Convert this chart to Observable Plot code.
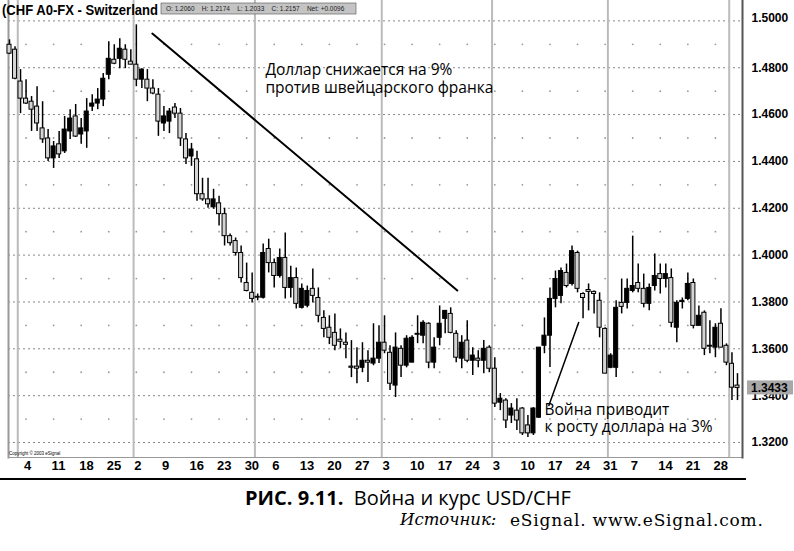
<!DOCTYPE html>
<html><head><meta charset="utf-8">
<script src="https://cdn.jsdelivr.net/npm/d3@7"></script>
<script src="https://cdn.jsdelivr.net/npm/@observablehq/plot@0.6"></script>
<style>
body{margin:0;background:#fff;}
#wrap{position:relative;width:794px;height:551px;overflow:hidden;background:#fff;}
#chart{position:absolute;left:0;top:0;}
.cap{position:absolute;white-space:nowrap;color:#000;line-height:1.2;}
</style></head><body>
<div id="wrap"><div id="chart"></div>
<div class="cap" style="left:245px;top:486px;font-family:'Open Sans';font-size:20px;"><b>РИС. 9.11.</b>&nbsp; Война и курс USD/CHF</div>
<div class="cap" style="left:400px;top:510px;font-family:'DejaVu Serif';font-size:16.5px;font-style:italic;">Источник:</div>
<div class="cap" style="left:510px;top:510px;font-family:'DejaVu Serif';font-size:17px;letter-spacing:0.8px;">eSignal. www.eSignal.com.</div>
</div>
<script>
// Daily USD/CHF candles, 30 Oct 2002 – 2 May 2003 (index = trading day)
const open = [1.4898,1.4877,1.4741,1.4668,1.4655,1.4634,1.4541,1.4498,1.4413,1.4473,
1.4443,1.4528,1.4592,1.4515,1.4528,1.4634,1.4647,1.4664,1.4770,1.4834,
1.4838,1.4877,1.4826,1.4813,1.4749,1.4749,1.4711,1.4685,1.4562,1.4570,
1.4630,1.4604,1.4494,1.4421,1.4409,1.4260,1.4238,1.4204,1.4221,1.4175,
1.4081,1.4060,1.4009,1.3881,1.3839,1.3822,1.3818,1.4026,1.3966,1.3911,
1.3988,1.3860,1.3902,1.3775,1.3784,1.3856,1.3817,1.3732,1.3690,1.3668,
1.3639,1.3626,1.3524,1.3524,1.3519,1.3549,1.3537,1.3558,1.3626,1.3583,
1.3443,1.3600,1.3528,1.3541,1.3660,1.3656,1.3707,1.3541,1.3647,1.3728,
1.3749,1.3664,1.3558,1.3635,1.3549,1.3558,1.3549,1.3605,1.3515,1.3370,
1.3379,1.3315,1.3336,1.3345,1.3273,1.3239,1.3306,1.3613,1.3656,1.3813,
1.3826,1.3924,1.3877,1.4009,1.3834,1.3851,1.3843,1.3805,1.3685,1.3519,
1.3519,1.3796,1.3796,1.3847,1.3881,1.3856,1.3792,1.3868,1.3919,1.3898,
1.3902,1.3690,1.3800,1.3813,1.3881,1.3698,1.3754,1.3613,1.3605,1.3707,
1.3613,1.3536,1.3443];
const high = [1.4919,1.4890,1.4792,1.4749,1.4677,1.4719,1.4655,1.4536,1.4485,1.4528,
1.4592,1.4621,1.4643,1.4583,1.4668,1.4685,1.4711,1.4775,1.4911,1.4898,
1.4924,1.4898,1.4877,1.4983,1.4796,1.4792,1.4749,1.4711,1.4634,1.4626,
1.4647,1.4626,1.4519,1.4477,1.4443,1.4328,1.4328,1.4281,1.4251,1.4200,
1.4090,1.4073,1.4039,1.3966,1.3924,1.3834,1.4047,1.4068,1.3983,1.4026,
1.4094,1.3953,1.3945,1.3877,1.3868,1.3941,1.3860,1.3762,1.3741,1.3749,
1.3685,1.3668,1.3635,1.3605,1.3626,1.3592,1.3707,1.3698,1.3741,1.3613,
1.3668,1.3613,1.3656,1.3656,1.3741,1.3720,1.3711,1.3647,1.3783,1.3762,
1.3775,1.3677,1.3656,1.3720,1.3605,1.3592,1.3635,1.3613,1.3562,1.3409,
1.3387,1.3366,1.3387,1.3349,1.3315,1.3349,1.3605,1.3732,1.3860,1.3932,
1.3945,1.3962,1.4039,1.4017,1.3839,1.3877,1.3847,1.3839,1.3690,1.3579,
1.3805,1.3898,1.3898,1.4081,1.3962,1.3919,1.3877,1.4005,1.3962,1.3962,
1.3941,1.3805,1.3817,1.3924,1.3898,1.3783,1.3762,1.3720,1.3707,1.3771,
1.3621,1.3583,1.3494];
const low = [1.4856,1.4749,1.4604,1.4643,1.4528,1.4528,1.4477,1.4400,1.4370,1.4413,
1.4434,1.4494,1.4502,1.4473,1.4456,1.4613,1.4621,1.4634,1.4749,1.4813,
1.4796,1.4796,1.4813,1.4719,1.4711,1.4655,1.4685,1.4507,1.4528,1.4519,
1.4583,1.4464,1.4387,1.4379,1.4230,1.4230,1.4200,1.4196,1.4124,1.4039,
1.4039,1.3996,1.3881,1.3843,1.3796,1.3805,1.3813,1.3924,1.3860,1.3902,
1.3813,1.3817,1.3770,1.3770,1.3775,1.3796,1.3711,1.3647,1.3618,1.3592,
1.3600,1.3558,1.3477,1.3451,1.3498,1.3456,1.3528,1.3537,1.3579,1.3422,
1.3392,1.3477,1.3519,1.3541,1.3622,1.3622,1.3515,1.3515,1.3613,1.3664,
1.3664,1.3541,1.3515,1.3541,1.3486,1.3519,1.3494,1.3498,1.3349,1.3336,
1.3260,1.3281,1.3251,1.3230,1.3221,1.3230,1.3302,1.3579,1.3520,1.3775,
1.3792,1.3860,1.3868,1.3839,1.3728,1.3762,1.3749,1.3647,1.3494,1.3515,
1.3477,1.3749,1.3770,1.3839,1.3839,1.3775,1.3762,1.3847,1.3834,1.3860,
1.3690,1.3626,1.3770,1.3805,1.3685,1.3698,1.3571,1.3579,1.3562,1.3605,
1.3528,1.3379,1.3379];
const close = [1.4860,1.4753,1.4668,1.4647,1.4621,1.4562,1.4494,1.4413,1.4464,1.4430,
1.4536,1.4583,1.4506,1.4541,1.4613,1.4647,1.4664,1.4753,1.4838,1.4817,
1.4881,1.4834,1.4813,1.4749,1.4792,1.4711,1.4690,1.4570,1.4592,1.4613,
1.4604,1.4498,1.4413,1.4451,1.4260,1.4238,1.4217,1.4238,1.4175,1.4081,
1.4051,1.4009,1.3902,1.3847,1.3813,1.3818,1.4009,1.3966,1.3911,1.3988,
1.3860,1.3902,1.3792,1.3856,1.3847,1.3826,1.3741,1.3685,1.3647,1.3613,
1.3630,1.3617,1.3519,1.3515,1.3549,1.3541,1.3558,1.3626,1.3592,1.3451,
1.3605,1.3528,1.3643,1.3647,1.3664,1.3711,1.3541,1.3605,1.3707,1.3762,
1.3668,1.3562,1.3626,1.3549,1.3571,1.3549,1.3600,1.3515,1.3366,1.3387,
1.3294,1.3345,1.3294,1.3239,1.3239,1.3345,1.3605,1.3656,1.3813,1.3898,
1.3932,1.3868,1.4017,1.3856,1.3817,1.3843,1.3834,1.3690,1.3494,1.3571,
1.3775,1.3779,1.3856,1.3868,1.3856,1.3792,1.3860,1.3911,1.3898,1.3919,
1.3711,1.3796,1.3805,1.3877,1.3698,1.3741,1.3600,1.3609,1.3690,1.3605,
1.3541,1.3434,1.3433];

// Axis data
const majorLevels = [1.32,1.34,1.36,1.38,1.40,1.42,1.44,1.46,1.48,1.50];
const minorLevels = [1.33,1.35,1.37,1.39,1.41,1.43,1.45,1.47,1.49];
const yLabels = [1.32,1.34,1.36,1.38,1.40,1.42,1.44,1.46,1.48,1.50];
const tickIndex = [3,8,13,18,23,28,33,38,43,48,53,58,63,68,73,78,83,88,93,98,103,108,113,118,123,128];
const tickLabels = ["4","11","18","25","2","9","16","23","30","6","13","20","27","3","10","17","24","3","10","17","24","31","7","14","21","28"];
const monthStart = [2,23,45,68,88,109,131]; // first trading day of Nov..May
const lastPrice = 1.3433;

// Annotations (trading-day index, price)
const trendLine = [{i:25.9,p:1.4946},{i:81.2,p:1.3849}];
const warLine = [{i:103.2,p:1.3712},{i:97.8,p:1.3358}];
const note1 = [{i:46.4,p:1.4822,text:"Доллар снижается на 9%\nпротив швейцарского франка"}];
const note2 = [{i:97.0,p:1.3371,text:"Война приводит\nк росту доллара на 3%"}];

const candles = open.map((o,i)=>({i,o,h:high[i],l:low[i],c:close[i]}));
const minorDots = minorLevels.flatMap(p=>tickIndex.map(i=>({i,p})));
const labelOf = new Map(tickIndex.map((t,k)=>[t,tickLabels[k]]));

const plot = Plot.plot({
  width:794, height:482,
  marginLeft:8, marginRight:52, marginTop:0, marginBottom:25,
  x:{domain:[-0.181,132.91], label:null},
  y:{domain:[1.3136,1.5087], label:null},
  style:{fontFamily:"'Liberation Sans', Arial, sans-serif", background:"white", color:"black"},
  marks:[
    Plot.ruleY(majorLevels,{stroke:"#888",strokeDasharray:"2,3",strokeWidth:1}),
    Plot.dot(minorDots,{x:"i",y:"p",r:0.9,fill:"#999",stroke:null}),
    Plot.ruleX(monthStart,{x:d=>d-0.5,stroke:"#bbb",strokeWidth:2}),
    Plot.frame({anchor:"left",stroke:"#999",strokeWidth:2}),
    Plot.frame({anchor:"bottom",stroke:"#999",strokeWidth:1}),
    Plot.frame({anchor:"right",stroke:"#555",strokeWidth:2}),
    Plot.ruleX(candles,{x:"i",y1:"l",y2:"h",stroke:"black",strokeWidth:1.5}),
    Plot.rect(candles,{x1:d=>d.i-0.37,x2:d=>d.i+0.37,y1:d=>Math.min(d.o,d.c),y2:d=>Math.max(d.o,d.c),
      fill:d=>d.c>d.o?"black":"#d4d4d4",stroke:"black",strokeWidth:1}),
    Plot.line(trendLine,{x:"i",y:"p",stroke:"black",strokeWidth:2}),
    Plot.line(warLine,{x:"i",y:"p",stroke:"black",strokeWidth:1.5}),
    Plot.text(note1,{x:"i",y:"p",text:"text",textAnchor:"start",lineAnchor:"top",fontSize:15.5,lineHeight:1.16,fontFamily:"'Open Sans'",fill:"black"}),
    Plot.text(note2,{x:"i",y:"p",text:"text",textAnchor:"start",lineAnchor:"top",fontSize:15.5,lineHeight:1.1,fontFamily:"'Open Sans'",fill:"black"}),
    Plot.axisY({anchor:"right",ticks:yLabels,tickFormat:d=>d.toFixed(4),tickSize:0,tickPadding:9,fontSize:12,textAnchor:"start",label:null}),
    Plot.axisX({ticks:tickIndex,tickFormat:d=>labelOf.get(d),tickSize:0,tickPadding:3,fontSize:13,textAnchor:"start",dx:-2,label:null})
  ]
});
document.getElementById("chart").appendChild(plot);

const svg = d3.select(plot);
svg.selectAll("g[aria-label='y-axis tick label'] text, g[aria-label='x-axis tick label'] text").style("font-weight","bold");
svg.selectAll("g[aria-label='y-axis tick label'] text").filter(function(){return this.textContent==="1.5000";}).attr("dy","-0.2em");
const ys = plot.scale("y");
const yLast = ys.apply(lastPrice);
const extra = svg.append("g").attr("text-anchor","start").attr("font-family","'Liberation Sans', Arial, sans-serif");
extra.append("rect").attr("x",747).attr("y",yLast-7).attr("width",46).attr("height",14).attr("fill","#a8a8a8");
extra.append("text").attr("x",751).attr("y",yLast+4.5).attr("font-size",12).attr("font-weight","bold").text(lastPrice.toFixed(4));
// header
extra.append("text").attr("x",2).attr("y",15).attr("font-size",14).attr("font-weight","bold")
  .attr("textLength",156).attr("lengthAdjust","spacingAndGlyphs").text("(CHF A0-FX - Switzerland");
extra.append("rect").attr("x",161).attr("y",3).attr("width",195).attr("height",11).attr("fill","#c4c4c4").attr("stroke","#666").attr("stroke-width",0.7);
extra.append("text").attr("x",166).attr("y",11).attr("font-size",6.5).attr("fill","#222").attr("xml:space","preserve").text("O: 1.2060    H: 1.2174    L: 1.2033    C: 1.2157    Net: +0.0096");
// copyright
extra.append("text").attr("x",9).attr("y",455).attr("font-size",4.5).text("Copyright © 2003 eSignal");
// bottom heavy rule
extra.append("line").attr("x1",0).attr("x2",746).attr("y1",479).attr("y2",479).attr("stroke","black").attr("stroke-width",2.2);
</script>
</body></html>
